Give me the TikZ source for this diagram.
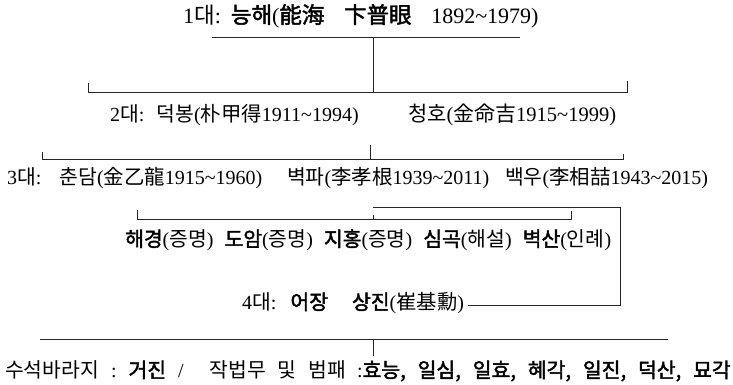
\documentclass[tikz,border=0pt]{standalone}
\usepackage{fontspec}
\setmainfont{Liberation Serif}
\newfontfamily\krf[WordSpace=2.6,Scale=1.02]{Noto Sans CJK KR}
\newfontfamily\krbf[WordSpace=2.6,Scale=1.02,FakeBold=2]{Noto Sans CJK KR}
\newcommand\kr[1]{{\krf #1}}
\newcommand\kb[1]{{\krbf #1}}
\newcommand\tld{\textasciitilde}
\newcommand\gp[1][0.55em]{\hspace{#1}}
\tikzset{
  txt/.style={anchor=west, inner sep=0pt, font=\fontsize{20}{22}\selectfont, text=black},
  ln/.style={draw=black!85, line width=1pt}
}
\begin{document}
\begin{tikzpicture}[x=1pt,y=-1pt]
\useasboundingbox[fill=white] (0,0) rectangle (733,385);
% texts
\node[txt, font=\fontsize{22}{24}\selectfont] (g1) at (183,16) {1\kr{대}:\gp[0.45em]\kb{능해}(\kb{能海}\gp[0.9em]\kb{卞普眼}\gp[0.9em]1892\tld1979)};
\node[txt] (g2a) at (110,115) {2\kr{대}:\gp[0.6em]\kr{덕봉}(\kr{朴甲得}1911\tld1994)};
\node[txt, font=\fontsize{20.5}{22}\selectfont] (g2b) at (408,115) {\kr{청호}(\kr{金命吉}1915\tld1999)};
\node[txt] (g3a) at (7,178) {3\kr{대}:\gp[0.9em]\kr{춘담}(\kr{金乙龍}1915\tld1960)};
\node[txt] (g3b) at (287,178) {\kr{벽파}(\kr{李孝根}1939\tld2011)};
\node[txt] (g3c) at (505,178) {\kr{백우}(\kr{李相喆}1943\tld2015)};
\node[txt] (r4) at (125,240) {\kb{해경}(\kr{증명})\gp\kb{도암}(\kr{증명})\gp\kb{지홍}(\kr{증명})\gp\kb{심곡}(\kr{해설})\gp\kb{벽산}(\kr{인례})};
\node[txt] (g4) at (242,303) {4\kr{대}:\gp[0.7em]\kb{어장}\gp[1.2em]\kb{상진}(\kr{崔基勳})};
\node[txt] (g5) at (5,371) {\kr{수석바라지}\gp[0.6em]:\gp[0.6em]\kb{거진}\gp[0.6em]/\gp[1.3em]\kr{작법무 및 범패}\gp[0.55em]:\kb{효능, 일심, 일효, 혜각, 일진, 덕산, 묘각}};
% coordinates
\coordinate (l1a) at (212,38); \coordinate (l1b) at (520,38); \coordinate (l1m) at (373,38);
\coordinate (l2a) at (88,93); \coordinate (l2b) at (627,93); \coordinate (l2m) at (373,93);
\coordinate (t3) at (370,145); \coordinate (l3m) at (370,159);
\coordinate (l3a) at (42,159); \coordinate (l3b) at (623,159);
\coordinate (pa) at (373,207); \coordinate (pb) at (620,207);
\coordinate (l4a) at (137,219); \coordinate (l4b) at (571,219); \coordinate (l4m) at (373,219);
\coordinate (l5a) at (468,305); \coordinate (l5b) at (620,305);
\coordinate (l6a) at (40,339); \coordinate (l6b) at (668,339); \coordinate (l6m) at (373,339);
% lines
\draw[ln] (l1a) -- (l1b);
\draw[ln] (l1m) -- (l2m);
\draw[ln] ([yshift=10]l2a) -- (l2a) -- (l2b) -- ([yshift=12]l2b);
\draw[ln] (t3) -- (l3m);
\draw[ln] ([yshift=7]l3a) -- (l3a) -- (l3b) -- ([yshift=5]l3b);
\draw[ln] ([yshift=-8]pa) -- (l4m);
\draw[ln] (pa) -- (pb) -- (l5b) -- (l5a);
\draw[ln] ([yshift=9]l4a) -- (l4a) -- (l4b) -- ([yshift=8]l4b);
\draw[ln] (l6a) -- (l6b);
\draw[ln] ([yshift=-17]l6m) -- (l6m);
\end{tikzpicture}
\end{document}
